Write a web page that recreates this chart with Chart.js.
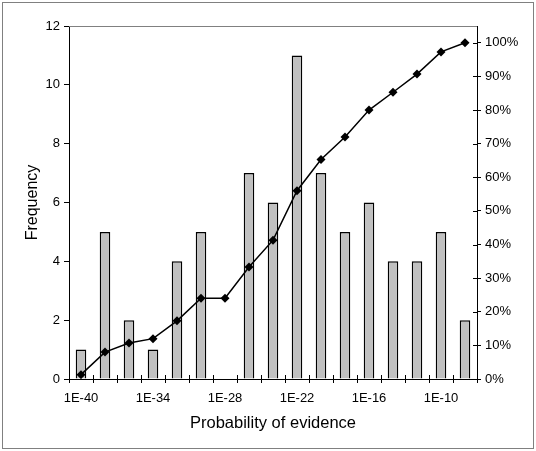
<!DOCTYPE html>
<html>
<head>
<meta charset="utf-8">
<script src="https://cdn.jsdelivr.net/npm/chart.js@4/dist/chart.umd.min.js"></script>
<style>
html,body{margin:0;padding:0;background:#fff;}
#wrap{position:relative;width:536px;height:451px;}
</style>
</head>
<body>
<div id="wrap"><canvas id="c" width="536" height="451"></canvas></div>
<script>
const categories = ['1E-40','1E-38','1E-36','1E-34','1E-32','1E-30','1E-28','1E-26','1E-24','1E-22','1E-20','1E-18','1E-16','1E-14','1E-12','1E-10','1E-08'];
const frequency = [1,5,2,1,4,5,0,7,6,11,7,5,6,4,4,5,2];
const cumulativePct = [1.3,8,10.7,12,17.3,24,24,33.3,41.3,56,65.3,72,80,85.3,90.7,97.3,100];
const leftTicks = [0,2,4,6,8,10,12];
const rightTicks = [0,10,20,30,40,50,60,70,80,90,100];

const FONT = "'Liberation Sans', Arial, sans-serif";

const frame = {
  id:'frame',
  afterDraw(chart){
    const ctx = chart.ctx, a = chart.chartArea;
    ctx.save();
    ctx.strokeStyle = '#808080';
    ctx.lineWidth = 1;
    ctx.strokeRect(2.5, 2.5, 531, 446);
    ctx.beginPath();
    ctx.moveTo(a.left, a.top + 0.5);
    ctx.lineTo(a.right, a.top + 0.5);
    ctx.stroke();
    ctx.strokeStyle = '#000';
    const yR = chart.scales.y2;
    ctx.beginPath();
    for (let i = 0; i <= categories.length; i++) {
      const px = Math.round(a.left + (a.right - a.left) * i / categories.length) + 0.5;
      ctx.moveTo(px, a.bottom);
      ctx.lineTo(px, a.bottom - 4);
    }
    yR.ticks.forEach((t, i) => {
      const py = Math.round(yR.getPixelForTick(i)) + 0.5;
      ctx.moveTo(a.right, py);
      ctx.lineTo(a.right - 4, py);
    });
    ctx.stroke();
    ctx.restore();
  }
};

new Chart(document.getElementById('c'), {
  data: {
    labels: categories,
    datasets: [
      {
        type: 'line',
        label: 'Cumulative %',
        data: cumulativePct,
        yAxisID: 'y2',
        borderColor: '#000',
        backgroundColor: '#000',
        borderWidth: 1.5,
        pointStyle: 'rectRot',
        pointRadius: 4.5,
        pointBorderWidth: 0,
        pointBackgroundColor: '#000',
        tension: 0,
        order: 0
      },
      {
        type: 'bar',
        label: 'Frequency',
        data: frequency,
        yAxisID: 'y',
        backgroundColor: '#c0c0c0',
        borderColor: '#000',
        borderWidth: 1.5,
        barPercentage: 0.44,
        categoryPercentage: 1,
        order: 1
      }
    ]
  },
  options: {
    responsive: false,
    animation: false,
    layout: { padding: { top: 26, left: 0, right: 0, bottom: 0 } },
    plugins: { legend: { display: false }, tooltip: { enabled: false } },
    scales: {
      x: {
        offset: true,
        grid: { display: true, offset: true, drawOnChartArea: false, drawTicks: true, tickLength: 4, color: '#000' },
        border: { color: '#000', width: 1 },
        ticks: {
          autoSkip: false, maxRotation: 0, minRotation: 0, padding: 8,
          color: '#000', font: { family: FONT, size: 13 },
          callback: (v, i) => (i % 3 === 0 ? categories[i] : '')
        },
        title: { display: true, text: 'Probability of evidence', color: '#000', font: { family: FONT, size: 16.5 }, padding: { top: 18, bottom: 18 } },
        afterFit(s){ s.height = 451 - 379; }
      },
      y: {
        position: 'left',
        min: 0, max: 12,
        afterBuildTicks(s){ s.ticks = leftTicks.map(v => ({ value: v })); },
        grid: { display: true, drawOnChartArea: false, drawTicks: true, tickLength: 5, color: '#000' },
        border: { color: '#000', width: 1 },
        ticks: { color: '#000', font: { family: FONT, size: 13 }, padding: 4 },
        title: { display: true, text: 'Frequency', color: '#000', font: { family: FONT, size: 16 }, padding: { bottom: 8, top: 23 } },
        afterFit(s){ s.width = 69; }
      },
      y2: {
        position: 'right',
        min: 0, max: 105,
        afterBuildTicks(s){ s.ticks = rightTicks.map(v => ({ value: v })); },
        grid: { display: true, drawOnChartArea: false, drawTicks: true, tickLength: 4, color: '#000' },
        border: { color: '#000', width: 1 },
        ticks: { color: '#000', font: { family: FONT, size: 13 }, padding: 4, callback: v => v + '%' },
        afterFit(s){ s.width = 536 - 477; }
      }
    }
  },
  plugins: [frame]
});
</script>
</body>
</html>
